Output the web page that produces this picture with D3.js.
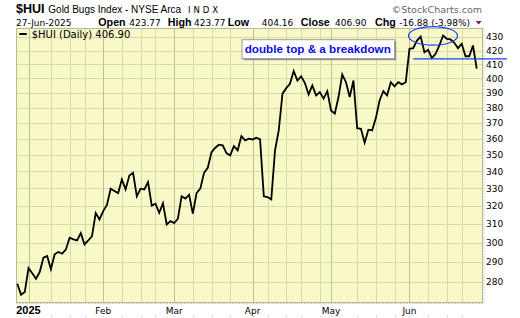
<!DOCTYPE html>
<html>
<head>
<meta charset="utf-8">
<script src="https://cdn.jsdelivr.net/npm/d3@7"></script>
<style>
  body { margin: 0; background: #fff; }
  svg { display: block; }
</style>
</head>
<body>
<div id="chart"></div>
<script>
// daily closes, Dec 27 2024 .. Jun 27 2025 (trading days)
var closes = [
  279.2, 273.9, 275.2, 287.0, 284.4, 281.7, 285.0, 292.3, 293.1, 286.4,
  294.0, 295.2, 294.3, 296.4, 302.7, 301.8, 301.2, 305.1, 299.1, 301.2,
  303.5, 316.0, 312.5, 317.1, 320.6, 329.8, 328.5, 327.3, 335.2, 329.4,
  337.5, 339.1, 325.4, 329.8, 329.4, 333.6, 320.2, 321.2, 316.2, 321.5,
  309.8, 311.6, 310.5, 312.9, 325.5, 324.1, 326.3, 315.7, 327.3, 329.8,
  339.1, 342.1, 351.6, 354.3, 356.2, 355.8, 351.0, 349.6, 355.3, 352.7,
  361.6, 358.9, 360.0, 359.5, 360.6, 359.5, 325.4, 325.0, 323.7, 352.7,
  365.2, 389.5, 393.3, 396.3, 405.2, 398.6, 401.6, 396.8, 389.0, 395.2,
  388.3, 390.6, 386.1, 391.2, 378.2, 376.1, 387.2, 402.8, 397.4, 387.2,
  398.6, 366.7, 366.3, 357.5, 365.7, 365.2, 373.2, 384.9, 391.2, 388.3,
  397.4, 394.5, 397.4, 395.9, 397.4, 421.3, 421.8, 427.5, 430.5, 418.8,
  420.6, 414.5, 417.7, 423.8, 431.3, 428.8, 428.3, 425.8, 421.8, 425.1,
  415.9, 415.9, 423.8, 406.9
];

// x axis: month labels and the index of the first trading day of each
var monthLabels = ["2025", "Feb", "Mar", "Apr", "May", "Jun"];
var monthIdx = [3, 23, 42, 63, 84, 105];
// weekly grid (first trading day of the week)
var weekIdx = [9, 14, 18, 28, 33, 37, 47, 52, 57, 67, 72, 76, 81, 91, 96, 101, 110, 115, 119];

// y axis ticks
var yTicks = [280, 290, 300, 310, 320, 330, 340, 350, 360, 370, 380, 390, 400, 410, 420, 430];

// header values
var quote = {date: "27-Jun-2025", open: "423.77", high: "423.77", low: "404.16", close: "406.90", chg: "-16.88 (-3.98%)"};
var support = 414;

var W = 520, H = 318;
// plot box (note: "top" is taken by window.top, so prefix these)
var pL = 16.5, pR = 482.5, pT = 28.5, pB = 302.5;

var svg = d3.select("#chart").append("svg")
    .attr("width", W)
    .attr("height", H);

var x = d3.scaleLinear()
    .domain([0, closes.length - 1])
    .range([17.3, 476.7]);

var y = d3.scaleLog()
    .domain([270.2, 436.6])
    .range([pB, pT]);

var sans = "'Liberation Sans', Arial, sans-serif";
var verd = "'DejaVu Sans', Verdana, sans-serif";

// plot background
svg.append("rect")
    .attr("x", pL).attr("y", pT)
    .attr("width", pR - pL).attr("height", pB - pT)
    .attr("fill", "#f8f8c8");

// horizontal grid
svg.append("g").selectAll("line")
    .data(yTicks)
    .enter().append("line")
    .attr("x1", pL).attr("x2", pR)
    .attr("y1", function (d) { return Math.round(y(d)) + 0.5; })
    .attr("y2", function (d) { return Math.round(y(d)) + 0.5; })
    .attr("stroke", "#d6daa6")
    .attr("stroke-width", 1);

// weekly vertical grid
svg.append("g").selectAll("line")
    .data(weekIdx)
    .enter().append("line")
    .attr("x1", function (d) { return Math.round(x(d)) + 0.5; })
    .attr("x2", function (d) { return Math.round(x(d)) + 0.5; })
    .attr("y1", pT).attr("y2", pB)
    .attr("stroke", "#d6daa6")
    .attr("stroke-width", 1);

// month vertical grid
svg.append("g").selectAll("line")
    .data(monthIdx)
    .enter().append("line")
    .attr("x1", function (d) { return Math.round(x(d)) + 0.5; })
    .attr("x2", function (d) { return Math.round(x(d)) + 0.5; })
    .attr("y1", pT).attr("y2", pB)
    .attr("stroke", "#bcc58e")
    .attr("stroke-width", 1);

// frame
svg.append("rect")
    .attr("x", pL).attr("y", pT)
    .attr("width", pR - pL).attr("height", pB - pT)
    .attr("fill", "none")
    .attr("stroke", "#b9b98e")
    .attr("stroke-width", 1);

// dotted tick rows
svg.append("line")
    .attr("x1", pL).attr("x2", pR + 1)
    .attr("y1", pB + 1).attr("y2", pB + 1)
    .attr("stroke", "#a8a8a8").attr("stroke-dasharray", "1,2");
svg.append("line")
    .attr("x1", pR + 1.5).attr("x2", pR + 1.5)
    .attr("y1", pT).attr("y2", pB + 1)
    .attr("stroke", "#a8a8a8").attr("stroke-dasharray", "1,2");
svg.append("g").selectAll("rect")
    .data(weekIdx.concat(monthIdx))
    .enter().append("rect")
    .attr("x", function (d) { return Math.round(x(d)); })
    .attr("y", 316)
    .attr("width", 1).attr("height", 1)
    .attr("fill", "#bbbbbb");

// price line
var line = d3.line()
    .x(function (d, i) { return x(i); })
    .y(function (d) { return y(d); });

svg.append("path")
    .datum(closes)
    .attr("d", line)
    .attr("fill", "none")
    .attr("stroke", "#000")
    .attr("stroke-width", 1.8)
    .attr("stroke-linejoin", "miter");

// y axis labels
svg.append("g").selectAll("text")
    .data(yTicks)
    .enter().append("text")
    .attr("x", 486)
    .attr("y", function (d) { return y(d); })
    .attr("dy", "0.36em")
    .attr("font-family", verd)
    .attr("font-size", "9px")
    .attr("fill", "#000")
    .text(function (d) { return d; });

// x axis labels
svg.append("g").selectAll("text")
    .data(monthIdx)
    .enter().append("text")
    .attr("x", function (d) { return x(d); })
    .attr("y", 313.5)
    .attr("text-anchor", "middle")
    .attr("font-family", function (d, i) { return i == 0 ? sans : verd; })
    .attr("font-weight", function (d, i) { return i == 0 ? "bold" : "normal"; })
    .attr("font-size", function (d, i) { return i == 0 ? "11px" : "9px"; })
    .text(function (d, i) { return monthLabels[i]; });

// header line 1
svg.append("text")
    .attr("x", 16).attr("y", 12.5)
    .attr("font-family", sans).attr("font-weight", "bold").attr("font-size", "12.5px")
    .text("$HUI");
svg.append("text")
    .attr("x", 48.3).attr("y", 12.5)
    .attr("font-family", sans).attr("font-size", "10px")
    .text("Gold Bugs Index - NYSE Arca");
svg.append("text")
    .attr("x", 188).attr("y", 12.5)
    .attr("font-family", verd).attr("font-size", "8.5px")
    .attr("textLength", 30).attr("lengthAdjust", "spacing")
    .text("INDX");
svg.append("text")
    .attr("x", 482).attr("y", 12.5)
    .attr("text-anchor", "end")
    .attr("font-family", verd).attr("font-size", "9.5px")
    .attr("fill", "#666")
    .text("\u00a9StockCharts.com");

// header line 2
var parts = [
    {t: quote.date, x: 16, b: false},
    {t: "Open", x: 98.3, b: true},
    {t: quote.open, x: 129.3, b: false},
    {t: "High", x: 167.8, b: true},
    {t: quote.high, x: 194, b: false},
    {t: "Low", x: 227.7, b: true},
    {t: quote.low, x: 261.7, b: false},
    {t: "Close", x: 300.7, b: true},
    {t: quote.close, x: 335, b: false},
    {t: "Chg", x: 375, b: true},
    {t: quote.chg, x: 399.3, b: false}
];
svg.append("g").selectAll("text")
    .data(parts)
    .enter().append("text")
    .attr("x", function (d) { return d.x; })
    .attr("y", 26)
    .attr("font-family", function (d) { return d.b ? sans : verd; })
    .attr("font-weight", function (d) { return d.b ? "bold" : "normal"; })
    .attr("font-size", function (d) { return d.b ? "10.7px" : "9px"; })
    .text(function (d) { return d.t; });

svg.append("path")
    .attr("d", "M475.7,21 L481.7,21 L478.7,24.5 Z")
    .attr("fill", "#8b1a3a");

// legend
svg.append("line")
    .attr("x1", 19.3).attr("x2", 26.7)
    .attr("y1", 34).attr("y2", 34)
    .attr("stroke", "#000").attr("stroke-width", 2);
svg.append("text")
    .attr("x", 31.7).attr("y", 37.5)
    .attr("font-family", verd).attr("font-size", "10px")
    .text("$HUI (Daily) " + quote.close);

// annotation box
svg.append("rect")
    .attr("x", 243.5).attr("y", 41.2)
    .attr("width", 152.7).attr("height", 19)
    .attr("fill", "#8a8a8a");
svg.append("rect")
    .attr("x", 242).attr("y", 39.7)
    .attr("width", 152.7).attr("height", 19)
    .attr("fill", "#fff")
    .attr("stroke", "#9a9a9a").attr("stroke-width", 1);
svg.append("text")
    .attr("x", 244.7).attr("y", 53)
    .attr("font-family", sans).attr("font-weight", "bold").attr("font-size", "11.7px")
    .attr("fill", "#0c0ce6")
    .text("double top & a breakdown");

// support line and double-top ellipse
svg.append("line")
    .attr("x1", x(106)).attr("x2", 507)
    .attr("y1", y(support)).attr("y2", y(support))
    .attr("stroke", "#1e3cff").attr("stroke-width", 1.3);
svg.append("ellipse")
    .attr("cx", x(111.3)).attr("cy", y(431))
    .attr("rx", 24.5).attr("ry", 9.3)
    .attr("fill", "none")
    .attr("stroke", "#1e3cff").attr("stroke-width", 1.2);
</script>
</body>
</html>
